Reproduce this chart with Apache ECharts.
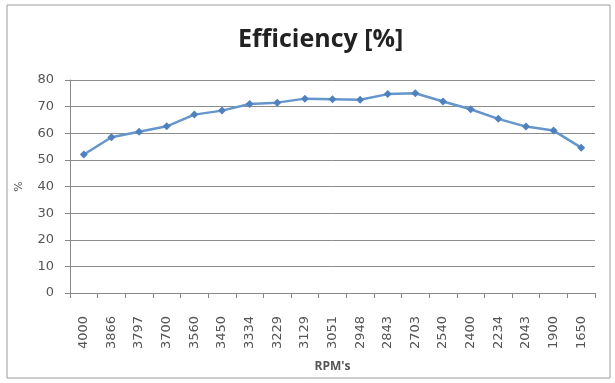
<!DOCTYPE html>
<html><head><meta charset="utf-8">
<script src="https://cdn.jsdelivr.net/npm/echarts@6/dist/echarts.min.js"></script>
<style>html,body{margin:0;padding:0;background:#fff}#c{width:615px;height:383px}</style>
</head><body><div id="c"></div>
<script>
var categories = ['4000','3866','3797','3700','3560','3450','3334','3229','3129','3051','2948','2843','2703','2540','2400','2234','2043','1900','1650'];
var efficiency = [52, 58.5, 60.6, 62.6, 67, 68.5, 71, 71.5, 73, 72.8, 72.6, 74.7, 75, 71.9, 69, 65.4, 62.5, 61, 54.6];
var yTicks = {min: 0, max: 80, interval: 10};

var chart = echarts.init(document.getElementById('c'));
chart.setOption({
  animation: false,
  backgroundColor: '#fff',
  graphic: [{type: 'rect', shape: {x: 7, y: 5, width: 603, height: 373}, style: {fill: 'none', stroke: '#9a9a9a', lineWidth: 1}}],
  title: {text: 'Efficiency [%]', left: 238, top: 27, padding: 0,
    textStyle: {fontFamily: 'Open Sans', fontSize: 25, fontWeight: 'bold', color: '#222'}},
  grid: {left: 70, right: 20, top: 80, bottom: 90},
  xAxis: {type: 'category', data: categories, boundaryGap: true,
    name: "RPM's", nameLocation: 'middle', nameGap: 68,
    nameTextStyle: {fontFamily: 'Open Sans', fontSize: 12, fontWeight: 'bold', color: '#555'},
    axisLine: {lineStyle: {color: '#888'}},
    axisTick: {show: true, length: 5, lineStyle: {color: '#888'}},
    axisLabel: {rotate: 90, interval: 0, margin: 23, fontFamily: 'DejaVu Sans', fontSize: 13, color: '#555'}},
  yAxis: {type: 'value', min: yTicks.min, max: yTicks.max, interval: yTicks.interval,
    name: '%', nameLocation: 'middle', nameGap: 45, nameRotate: 90,
    nameTextStyle: {fontFamily: 'DejaVu Sans', fontSize: 11, color: '#555'},
    axisLine: {show: true, lineStyle: {color: '#888'}},
    axisTick: {show: true, length: 5, lineStyle: {color: '#888'}},
    axisLabel: {margin: 16, fontFamily: 'DejaVu Sans', fontSize: 13, color: '#555'},
    splitLine: {lineStyle: {color: '#8c8c8c', width: 1}}},
  series: [{type: 'line', data: efficiency, symbol: 'diamond', symbolSize: 8,
    lineStyle: {color: '#6596cb', width: 2.5}, itemStyle: {color: '#4f81bd'}}]
});
</script></body></html>
